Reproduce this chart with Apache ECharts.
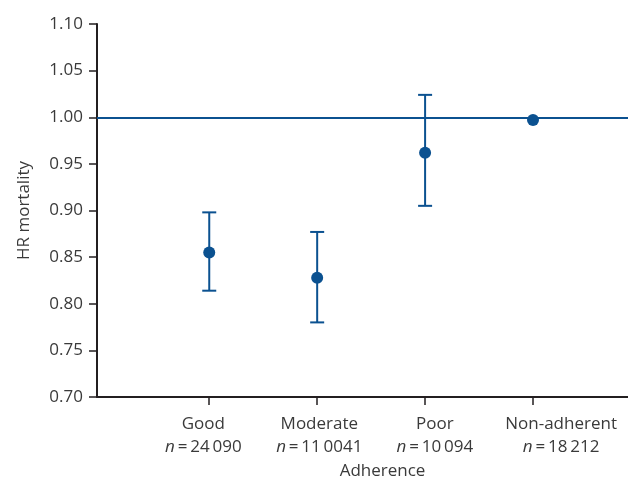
<!DOCTYPE html>
<html>
<head>
<meta charset="utf-8">
<script src="https://cdn.jsdelivr.net/npm/echarts@6/dist/echarts.min.js"></script>
<style>html,body{margin:0;padding:0;background:#fff}#c{width:628px;height:480px}</style>
</head>
<body>
<div id="c"></div>
<script>
const categories = ['Good', 'Moderate', 'Poor', 'Non-adherent'];
const sampleSizes = ['24\u2009090', '11\u20090041', '10\u2009094', '18\u2009212'];
const positions = [1, 2, 3, 4];
const hr = [0.855, 0.828, 0.962, 0.997];
const ciLow = [0.814, 0.780, 0.905, null];
const ciHigh = [0.898, 0.877, 1.024, null];
const referenceHR = 1.0;

const BLUE = '#0b5190';
const AXIS = '#231f20';
const TEXT = '#3a3a3a';
const FONT = '"Open Sans", sans-serif';
const FS = 17;
// label offset from its tick, in axis units (style only)
const labelShift = [-0.055, 0.02, 0.09, 0.26];
const labelValues = positions.map((p, i) => p + labelShift[i]);

const rich = {
  t: {fontSize: FS, fontFamily: FONT, color: TEXT, lineHeight: 23},
  n: {fontSize: FS, fontFamily: FONT, color: TEXT, lineHeight: 23, fontStyle: 'italic'},
  v: {fontSize: FS, fontFamily: FONT, color: TEXT, lineHeight: 23}
};

const chart = echarts.init(document.getElementById('c'), null, {renderer: 'canvas'});
chart.setOption({
  animation: false,
  grid: {left: 97, right: 0, top: 24, bottom: 83, containLabel: false, outerBoundsMode: 'none'},
  xAxis: {
    type: 'value', min: -0.04, max: 4.88,
    name: 'Adherence', nameLocation: 'middle', nameGap: 66,
    nameTextStyle: {fontSize: FS, fontFamily: FONT, color: TEXT, padding: [0, 0, 0, 40]},
    splitLine: {show: false},
    axisLine: {onZero: false, lineStyle: {color: AXIS, width: 2}},
    axisTick: {customValues: positions, length: 8, lineStyle: {color: AXIS, width: 1.5}},
    axisLabel: {
      customValues: labelValues, margin: 16, hideOverlap: false,
      formatter: function (v) {
        let k = 0, best = Infinity;
        positions.forEach((p, i) => { const d = Math.abs(p - v); if (d < best) { best = d; k = i; } });
        return '{t|' + categories[k] + '}\n{n|n}{v|\u2009=\u2009' + sampleSizes[k] + '}';
      },
      rich: rich
    }
  },
  yAxis: {
    type: 'value', min: 0.7, max: 1.1, interval: 0.05,
    name: 'HR mortality', nameLocation: 'middle', nameGap: 64,
    nameTextStyle: {fontSize: FS, fontFamily: FONT, color: TEXT},
    splitLine: {show: false},
    axisLine: {show: true, onZero: false, lineStyle: {color: AXIS, width: 2}},
    axisTick: {show: true, length: 8, lineStyle: {color: AXIS, width: 1.5}},
    axisLabel: {fontSize: FS, fontFamily: FONT, color: TEXT, margin: 14, formatter: v => v.toFixed(2)}
  },
  series: [
    {
      type: 'custom',
      data: positions.map((p, i) => [p, ciLow[i], ciHigh[i]]).filter(d => d[1] != null),
      renderItem: function (params, api) {
        const lo = api.coord([api.value(0), api.value(1)]);
        const hi = api.coord([api.value(0), api.value(2)]);
        const w = 7;
        const style = {stroke: BLUE, lineWidth: 2, fill: null};
        return {
          type: 'group',
          children: [
            {type: 'line', shape: {x1: lo[0], y1: lo[1], x2: hi[0], y2: hi[1]}, style: style},
            {type: 'line', shape: {x1: lo[0] - w, y1: lo[1], x2: lo[0] + w, y2: lo[1]}, style: style},
            {type: 'line', shape: {x1: hi[0] - w, y1: hi[1], x2: hi[0] + w, y2: hi[1]}, style: style}
          ]
        };
      },
      z: 3
    },
    {
      type: 'scatter',
      data: positions.map((p, i) => [p, hr[i]]),
      symbol: 'circle', symbolSize: 12,
      itemStyle: {color: BLUE, opacity: 1},
      z: 4,
      markLine: {
        silent: true, symbol: 'none', label: {show: false},
        lineStyle: {color: BLUE, width: 2, type: 'solid'},
        data: [{yAxis: referenceHR}]
      }
    }
  ]
});
</script>
</body>
</html>
